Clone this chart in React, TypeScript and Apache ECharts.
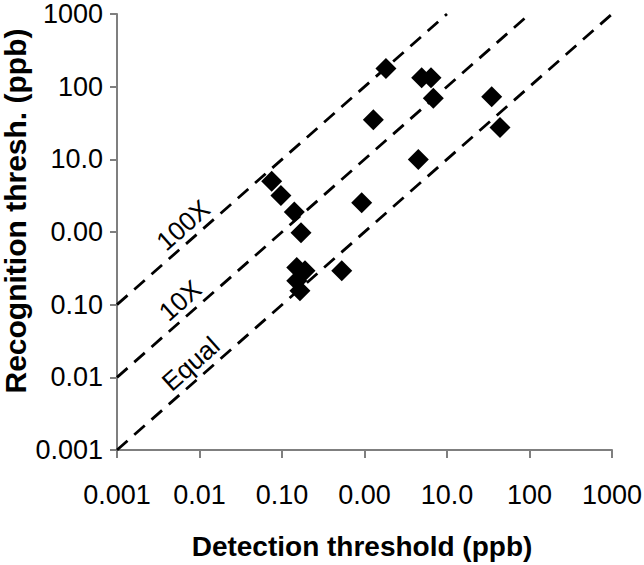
import { useEffect, useRef } from "react";
import * as echarts from "echarts";

// Scatter data: detection threshold (x) and recognition threshold (y), ppb
const detection = [0.075, 0.097, 0.141, 0.17, 0.925, 0.53, 0.151, 0.19, 0.151, 0.165, 1.82, 4.93, 6.4, 6.82, 1.28, 34.8, 43.9, 4.49];
const recognition = [5.0, 3.18, 1.88, 0.977, 2.52, 0.292, 0.324, 0.292, 0.213, 0.156, 178, 133, 133, 69.2, 35.0, 72.9, 27.4, 9.91];

// Axis tick labels (as printed in the original figure)
const xTickLabels = ["0.001", "0.01", "0.10", "0.00", "10.0", "100", "1000"];
const yTickLabels = ["0.001", "0.01", "0.10", "0.00", "10.0", "100", "1000"];

// Reference lines (recognition = factor × detection)
const refNames = ["Equal", "10X", "100X"];
const refStart = [[0.001, 0.001], [0.001, 0.01], [0.001, 0.1]];
const refEnd = [[1000, 1000], [100, 1000], [10, 1000]];
const refLabelAt = [[0.0105, 0.0105], [0.0078, 0.078], [0.0085, 0.85]];

export default function App() {
  const ref = useRef<HTMLDivElement>(null);
  useEffect(() => {
    if (!ref.current) return;
    const chart = echarts.init(ref.current, null, { renderer: "svg" });
    const axisColor = "#7f7f7f";
    const font = "Liberation Sans, Arial, sans-serif";
    const refSeries: any[] = refNames.map((n, i) => ({
      type: "line",
      name: n,
      data: [refStart[i], refEnd[i]],
      symbol: "none",
      silent: true,
      lineStyle: { color: "#000", width: 2.8, type: [14, 9], opacity: 1 },
      z: 1,
    }));
    const labelSeries: any[] = refNames.map((n, i) => ({
      type: "scatter",
      name: n + " label",
      data: [{ value: refLabelAt[i], name: n }],
      symbolSize: 0,
      silent: true,
      itemStyle: { opacity: 1 },
      label: {
        show: true,
        position: "inside",
        formatter: "{b}",
        rotate: 41.5,
        offset: [0, -16],
        color: "#000",
        opacity: 1,
        fontFamily: font,
        fontSize: 26,
      },
      z: 3,
    }));
    chart.setOption({
      animation: false,
      backgroundColor: "#fff",
      grid: { left: 117, right: 32, top: 14, bottom: 115, containLabel: false, outerBoundsMode: "none" },
      xAxis: {
        type: "log",
        logBase: 10,
        min: 0.001,
        max: 1000,
        interval: 1,
        axisLine: { show: true, lineStyle: { color: axisColor, width: 2 } },
        axisTick: { show: true, inside: false, length: 8, lineStyle: { color: axisColor, width: 2 } },
        splitLine: { show: false },
        minorTick: { show: false },
        axisLabel: {
          margin: 31,
          color: "#000",
          fontFamily: font,
          fontSize: 27,
          formatter: (_v: number, idx: number) => xTickLabels[idx] ?? "",
        },
      },
      yAxis: {
        type: "log",
        logBase: 10,
        min: 0.001,
        max: 1000,
        interval: 1,
        axisLine: { show: true, lineStyle: { color: axisColor, width: 2 } },
        axisTick: { show: true, inside: false, length: 7, lineStyle: { color: axisColor, width: 2 } },
        splitLine: { show: false },
        axisLabel: {
          margin: 14,
          color: "#000",
          fontFamily: font,
          fontSize: 27,
          formatter: (_v: number, idx: number) => yTickLabels[idx] ?? "",
        },
      },
      graphic: [
        {
          type: "text",
          x: 362,
          y: 546,
          style: {
            text: "Detection threshold (ppb)",
            font: "bold 28px Liberation Sans, Arial, sans-serif",
            fill: "#000",
            textAlign: "center",
            textVerticalAlign: "middle",
          },
        },
        {
          type: "text",
          x: 15,
          y: 211,
          rotation: Math.PI / 2,
          style: {
            text: "Recognition thresh. (ppb)",
            font: "bold 30px Liberation Sans, Arial, sans-serif",
            fill: "#000",
            textAlign: "center",
            textVerticalAlign: "middle",
          },
        },
      ],
      series: [
        ...refSeries,
        ...labelSeries,
        {
          type: "scatter",
          name: "Compounds",
          data: detection.map((d, i) => [d, recognition[i]]),
          symbol: "diamond",
          symbolSize: 21,
          itemStyle: { color: "#000", opacity: 1 },
          z: 4,
        },
      ],
    });
    return () => chart.dispose();
  }, []);
  return <div ref={ref} style={{ position: "fixed", left: 0, top: 0, width: 644, height: 565 }} />;
}
